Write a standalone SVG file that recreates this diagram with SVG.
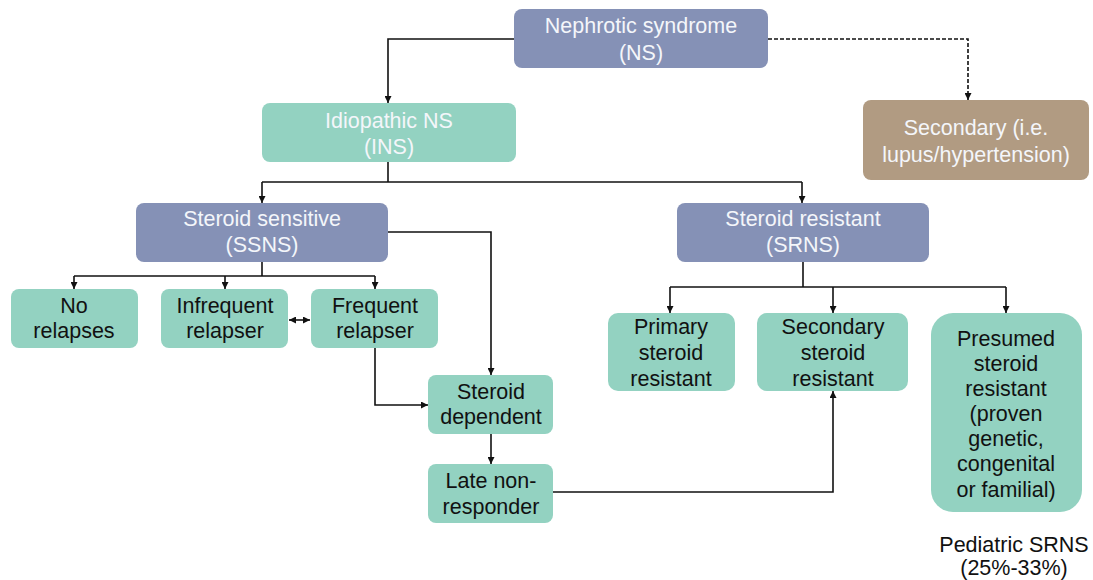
<svg xmlns="http://www.w3.org/2000/svg" width="1093" height="580" viewBox="0 0 1093 580">
<style>
.b{fill:#8591b6}
.t{fill:#93d2c1}
.s{fill:#b19b82}
text{font-family:"Liberation Sans",Arial,sans-serif;font-size:21.5px;text-anchor:middle}
.w{fill:#f4f6fa}
.k{fill:#111}
.c{fill:none;stroke:#111;stroke-width:1.6}
.d{stroke-dasharray:4 2}
</style>
<defs>
<marker id="a" viewBox="0 0 10 10" refX="10" refY="5" markerWidth="7" markerHeight="7" markerUnits="userSpaceOnUse" orient="auto-start-reverse">
<path d="M0,0L10,5L0,10z" fill="#111"/>
</marker>
</defs>
<rect width="1093" height="580" fill="#fff"/>
<g id="connectors">
<path class="c" d="M514,39H388V103" marker-end="url(#a)"/>
<path class="c d" d="M768,39H968V100" marker-end="url(#a)"/>
<path class="c" d="M388,162V182"/>
<path class="c" d="M262,182H802"/>
<path class="c" d="M262,182V203" marker-end="url(#a)"/>
<path class="c" d="M802,182V203" marker-end="url(#a)"/>
<path class="c" d="M262,262V276"/>
<path class="c" d="M74,276H375"/>
<path class="c" d="M74,276V289" marker-end="url(#a)"/>
<path class="c" d="M225,276V289" marker-end="url(#a)"/>
<path class="c" d="M375,276V289" marker-end="url(#a)"/>
<path class="c" d="M289,320H310" marker-start="url(#a)" marker-end="url(#a)"/>
<path class="c" d="M388,232H491V375" marker-end="url(#a)"/>
<path class="c" d="M375,348V405H428" marker-end="url(#a)"/>
<path class="c" d="M491,434V464" marker-end="url(#a)"/>
<path class="c" d="M553,492H833V391" marker-end="url(#a)"/>
<path class="c" d="M803,262V287"/>
<path class="c" d="M670,287H1006"/>
<path class="c" d="M670,287V313" marker-end="url(#a)"/>
<path class="c" d="M833,287V313" marker-end="url(#a)"/>
<path class="c" d="M1006,287V313" marker-end="url(#a)"/>
</g>
<g id="ns"><rect class="b" x="514" y="9" width="254" height="59" rx="8"/><text class="w" x="641" y="33">Nephrotic syndrome</text><text class="w" x="641" y="60">(NS)</text></g>
<g id="ins"><rect class="t" x="262" y="103" width="254" height="59" rx="8"/><text class="w" x="389" y="128">Idiopathic NS</text><text class="w" x="389" y="154">(INS)</text></g>
<g id="secondary"><rect class="s" x="863" y="100" width="226" height="80" rx="8"/><text class="w" x="976" y="135">Secondary (i.e.</text><text class="w" x="976" y="162">lupus/hypertension)</text></g>
<g id="ssns"><rect class="b" x="136" y="203" width="252" height="59" rx="8"/><text class="w" x="262" y="226">Steroid sensitive</text><text class="w" x="262" y="252">(SSNS)</text></g>
<g id="srns"><rect class="b" x="677" y="203" width="252" height="59" rx="8"/><text class="w" x="803" y="226">Steroid resistant</text><text class="w" x="803" y="252">(SRNS)</text></g>
<g id="norelapses"><rect class="t" x="11" y="289" width="127" height="59" rx="8"/><text class="k" x="74" y="313">No</text><text class="k" x="74" y="338">relapses</text></g>
<g id="infrequent"><rect class="t" x="161" y="289" width="127" height="59" rx="8"/><text class="k" x="225" y="313">Infrequent</text><text class="k" x="225" y="338">relapser</text></g>
<g id="frequent"><rect class="t" x="311" y="289" width="127" height="59" rx="8"/><text class="k" x="375" y="313">Frequent</text><text class="k" x="375" y="338">relapser</text></g>
<g id="dependent"><rect class="t" x="428" y="375" width="125" height="59" rx="8"/><text class="k" x="491" y="399">Steroid</text><text class="k" x="491" y="424">dependent</text></g>
<g id="late"><rect class="t" x="428" y="464" width="125" height="59" rx="8"/><text class="k" x="491" y="488">Late non-</text><text class="k" x="491" y="514">responder</text></g>
<g id="primary"><rect class="t" x="608" y="313" width="127" height="78" rx="10"/><text class="k" x="671" y="334">Primary</text><text class="k" x="671" y="360">steroid</text><text class="k" x="671" y="386">resistant</text></g>
<g id="secondarysr"><rect class="t" x="757" y="313" width="151" height="78" rx="10"/><text class="k" x="833" y="334">Secondary</text><text class="k" x="833" y="360">steroid</text><text class="k" x="833" y="386">resistant</text></g>
<g id="presumed"><rect class="t" x="931" y="313" width="151" height="199" rx="22"/><text class="k" x="1006" y="346">Presumed</text><text class="k" x="1006" y="371">steroid</text><text class="k" x="1006" y="396">resistant</text><text class="k" x="1006" y="421">(proven</text><text class="k" x="1006" y="446">genetic,</text><text class="k" x="1006" y="471">congenital</text><text class="k" x="1006" y="497">or familial)</text></g>
<g id="pediatric"><text class="k" x="1014" y="552">Pediatric SRNS</text><text class="k" x="1014" y="575">(25%-33%)</text></g>
</svg>
